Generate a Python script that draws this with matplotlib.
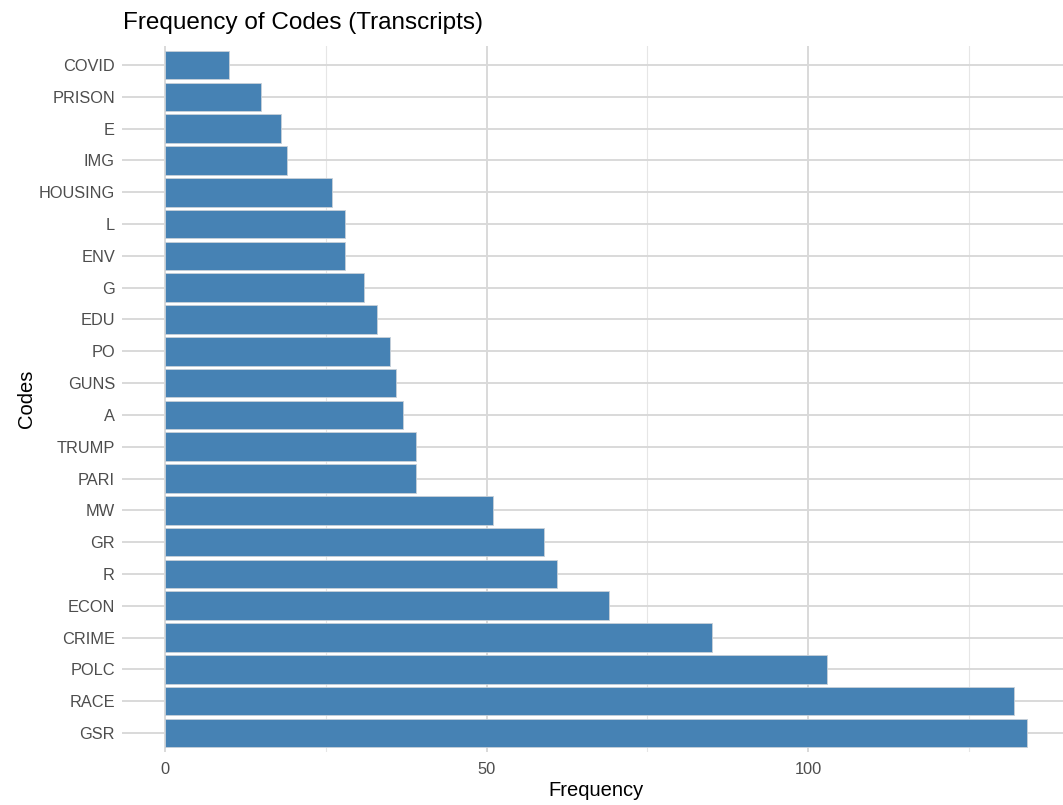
import numpy as np
import matplotlib.pyplot as plt

plt.rcParams['font.family'] = ['Liberation Sans', 'DejaVu Sans']

# codes listed bottom to top (as plotted)
codes = ["GSR", "RACE", "POLC", "CRIME", "ECON", "R", "GR", "MW", "PARI", "TRUMP", "A",
         "GUNS", "PO", "EDU", "G", "ENV", "L", "HOUSING", "IMG", "E", "PRISON", "COVID"]
freq = [134, 132, 103, 85, 69, 61, 59, 51, 39, 39, 37,
        36, 35, 33, 31, 28, 28, 26, 19, 18, 15, 10]
x_ticks = [0, 50, 100]
x_minor = [25, 75, 125]

W, H = 1063, 805
fig = plt.figure(figsize=(W / 100, H / 100), dpi=100)

# panel geometry in pixels
px_per_unit = 6.43
x0_px = 165
xmin, xmax = -6.7, 140.7
left_px = x0_px + xmin * px_per_unit
right_px = x0_px + xmax * px_per_unit
top_px, bot_px = 46, 752
ax = fig.add_axes([left_px / W, 1 - bot_px / H, (right_px - left_px) / W, (bot_px - top_px) / H])

y = np.arange(len(codes))
ax.barh(y, freq, height=0.9, color="#4682B4", edgecolor="#c8d0d8", linewidth=0.6, zorder=3)

ax.set_xlim(xmin, xmax)
ax.set_ylim(-0.6, len(codes) - 0.4)
ax.set_xticks(x_ticks)
ax.set_xticks(x_minor, minor=True)
ax.set_yticks(y)
ax.set_yticklabels(codes)

ax.grid(True, which="major", color="#d9d9d9", linewidth=1.4, zorder=0)
ax.grid(True, which="minor", axis="x", color="#e6e6e6", linewidth=0.8, zorder=0)
for s in ax.spines.values():
    s.set_visible(False)
ax.tick_params(which="both", length=0, labelsize=11.8, labelcolor="#4d4d4d")
ax.tick_params(axis="y", pad=5)
ax.tick_params(axis="x", pad=7)

ax.set_xlabel("Frequency", fontsize=14.5, color="black", labelpad=3)
ax.set_ylabel("Codes", fontsize=14.5, color="black", labelpad=2)
fig.text(123 / W, 1 - 29 / H, "Frequency of Codes (Transcripts)", fontsize=17.5,
         ha="left", va="baseline")

fig.savefig("out.png", dpi=100, facecolor="white")
